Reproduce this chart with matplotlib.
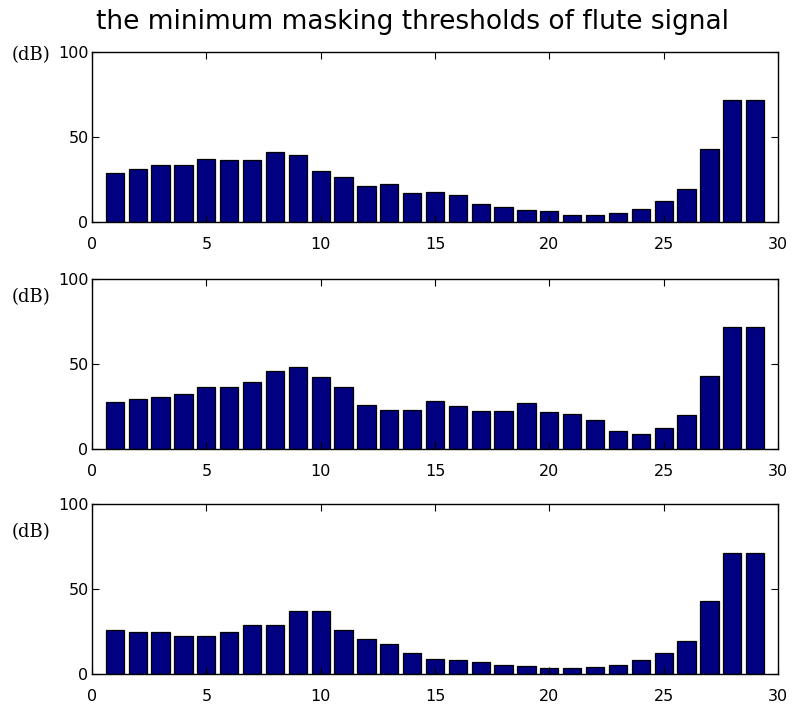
import matplotlib
matplotlib.use("Agg")
import matplotlib.pyplot as plt

matplotlib.rcParams.update({'font.size': 11.5, 'font.family': 'DejaVu Sans'})

# critical band index 1..29
bands = list(range(1, 30))

# minimum masking thresholds (dB)
thresholds_top = [28.6, 31.4, 33.3, 33.3, 37.3, 36.7, 36.7, 41.0, 39.2, 30.2,
                  26.7, 21.4, 22.2, 17.1, 17.8, 16.1, 10.6, 9.0, 7.3, 6.3,
                  4.3, 4.3, 5.3, 7.8, 12.5, 19.6, 42.7, 71.6, 71.6]
thresholds_mid = [27.9, 29.5, 30.6, 32.2, 36.7, 36.7, 39.3, 45.6, 48.3, 42.2,
                  36.7, 25.9, 23.2, 23.2, 28.5, 25.3, 22.4, 22.4, 26.9, 21.6,
                  20.8, 17.1, 10.8, 9.0, 12.6, 19.8, 43.0, 71.5, 71.5]
thresholds_bot = [25.7, 24.9, 24.9, 22.4, 22.4, 24.9, 28.7, 28.7, 37.3, 37.3,
                  25.7, 20.4, 17.9, 12.4, 8.8, 8.1, 7.1, 5.3, 4.5, 3.5,
                  3.5, 4.3, 5.3, 8.1, 12.4, 19.6, 42.8, 71.3, 71.3]

panels = [thresholds_top, thresholds_mid, thresholds_bot]
xticks = [0, 5, 10, 15, 20, 25, 30]
yticks = [0, 50, 100]

W, H = 797, 708
fig = plt.figure(figsize=(W / 100, H / 100), dpi=100)

# axes boxes in pixels: (top, bottom), left/right shared
boxes = [(52, 222), (279, 449), (504, 674)]
left, right = 92, 778
# where the "(dB)" label sits (pixel y of its centre)
db_y = [55, 297, 532]

for values, (top, bottom), ly in zip(panels, boxes, db_y):
    ax = fig.add_axes([left / W, 1 - bottom / H, (right - left) / W, (bottom - top) / H])
    ax.bar(bands, values, width=0.8, color="#000080", edgecolor="black", linewidth=0.9)
    ax.set_xlim(0, 30)
    ax.set_ylim(0, 100)
    ax.set_xticks(xticks)
    ax.set_yticks(yticks)
    ax.tick_params(direction="in", length=5, width=0.8, top=True, right=True)
    ax.tick_params(axis="x", pad=11)
    ax.tick_params(axis="y", pad=2.5)
    for s in ax.spines.values():
        s.set_linewidth(1.0)
    fig.text(12 / W, 1 - ly / H, "(dB)", family="DejaVu Serif", fontsize=13,
             ha="left", va="center")

fig.text(412 / W, 1 - 22 / H, "the minimum masking thresholds of flute signal",
         ha="center", va="center", fontsize=19)

plt.savefig("out.png", dpi=100)
